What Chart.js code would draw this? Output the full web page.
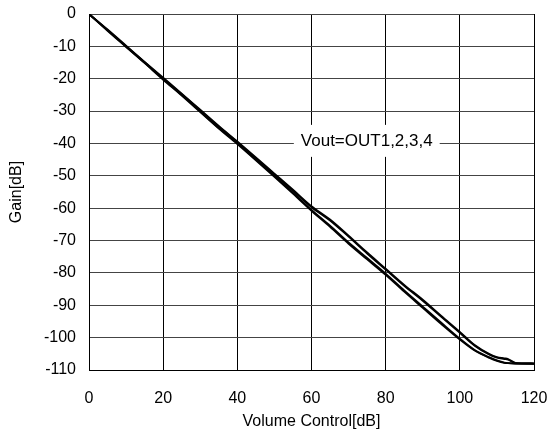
<!DOCTYPE html>
<html>
<head>
<meta charset="utf-8">
<script src="https://cdn.jsdelivr.net/npm/chart.js@4/dist/chart.umd.min.js"></script>
<style>
  html, body { margin: 0; padding: 0; background: #fff; }
  #wrap { width: 553px; height: 446px; }
</style>
</head>
<body>
<div id="wrap"><canvas id="gainChart" width="553" height="446"></canvas></div>
<script>
// volume control setting (x) and gain for each output
const volume = [0, 5, 10, 15, 20, 25, 30, 35, 40, 45, 50, 55, 60, 65, 70, 75, 80, 85, 90, 95, 100, 104, 108, 110, 112, 113, 115, 120];
const out1 = [0, -5.2, -10.2, -15.2, -20.3, -25.2, -30.3, -35.4, -40.2, -45.2, -50.3, -55.5, -60.8, -65.8, -71.0, -75.8, -80.6, -85.8, -90.8, -95.8, -100.6, -104.0, -106.3, -107.2, -107.8, -107.9, -108.0, -108.0];
const out2 = [0, -5.0, -10.0, -15.0, -20.1, -25.0, -30.1, -35.2, -39.9, -45.0, -50.0, -55.2, -60.5, -65.4, -70.6, -75.4, -80.2, -85.4, -90.4, -95.4, -100.3, -103.8, -106.1, -107.0, -107.7, -107.9, -108.0, -108.0];
const out3 = [0, -5.0, -10.0, -15.0, -19.9, -24.8, -29.8, -34.8, -39.6, -44.6, -49.6, -54.6, -59.7, -63.8, -68.8, -74.0, -79.0, -84.0, -88.6, -93.6, -98.5, -102.5, -105.3, -106.2, -106.6, -106.8, -107.9, -108.0];
const out4 = [0, -4.8, -9.8, -14.8, -19.7, -24.6, -29.6, -34.6, -39.4, -44.3, -49.3, -54.3, -59.4, -63.5, -68.5, -73.7, -78.7, -83.7, -88.3, -93.3, -98.2, -102.3, -105.1, -106.0, -106.4, -106.6, -107.8, -108.0];
const xTicks = [0, 20, 40, 60, 80, 100, 120];
const yTicks = [0, -10, -20, -30, -40, -50, -60, -70, -80, -90, -100, -110];
const noteText = "Vout=OUT1,2,3,4";

const FONT = "'Liberation Sans', Arial, sans-serif";

function toPoints(ys) {
  return volume.map((v, i) => ({ x: v, y: ys[i] }));
}

// draws the boxed note on top of the grid, placed by data coordinates
const notePlugin = {
  id: 'note',
  afterDatasetsDraw(chart, args, opts) {
    const { ctx, scales } = chart;
    const cx = scales.x.getPixelForValue(opts.x);
    const cy = scales.y.getPixelForValue(opts.y);
    ctx.save();
    ctx.font = "17px " + FONT;
    const w = ctx.measureText(opts.text).width;
    ctx.fillStyle = "#fff";
    ctx.fillRect(cx - w / 2 - 7, cy - 16, w + 14, 32);
    ctx.fillStyle = "#000";
    ctx.textAlign = "center";
    ctx.textBaseline = "middle";
    ctx.fillText(opts.text, cx, cy);
    ctx.restore();
  }
};

const lineStyle = {
  borderColor: '#000',
  borderWidth: 1.8,
  pointRadius: 0,
  tension: 0.3,
  cubicInterpolationMode: 'monotone',
  fill: false
};

new Chart(document.getElementById("gainChart").getContext("2d"), {
  type: 'line',
  data: {
    datasets: [
      { label: 'OUT1', data: toPoints(out1), ...lineStyle },
      { label: 'OUT2', data: toPoints(out2), ...lineStyle },
      { label: 'OUT3', data: toPoints(out3), ...lineStyle },
      { label: 'OUT4', data: toPoints(out4), ...lineStyle }
    ]
  },
  plugins: [notePlugin],
  options: {
    responsive: false,
    animation: false,
    layout: { padding: { top: 14, right: 19, left: 0, bottom: 0 } },
    plugins: {
      legend: { display: false },
      tooltip: { enabled: false },
      note: { x: 74.9, y: -39.2, text: noteText }
    },
    scales: {
      x: {
        type: 'linear',
        min: 0,
        max: 120,
        afterBuildTicks: axis => { axis.ticks = xTicks.map(v => ({ value: v })); },
        afterFit: axis => {
          axis.height = 76;
          axis.paddingLeft = 0;
          axis.paddingRight = 0;
        },
        grid: { color: '#000', lineWidth: 1, drawTicks: false, tickLength: 0 },
        border: { color: '#000', width: 1 },
        ticks: { color: '#000', font: { family: FONT, size: 16 }, padding: 19, maxRotation: 0 },
        title: {
          display: true,
          text: 'Volume Control[dB]',
          color: '#000',
          font: { family: FONT, size: 16 },
          padding: { top: 0, bottom: 15 }
        }
      },
      y: {
        type: 'linear',
        min: -110,
        max: 0,
        afterBuildTicks: axis => { axis.ticks = yTicks.map(v => ({ value: v })); },
        afterFit: axis => {
          axis.width = 89;
          axis.paddingTop = 0;
          axis.paddingBottom = 0;
        },
        grid: { color: '#444', lineWidth: 1, drawTicks: false, tickLength: 0 },
        border: { color: '#000', width: 1 },
        ticks: { color: '#000', font: { family: FONT, size: 16 }, padding: 13 },
        title: {
          display: true,
          text: 'Gain[dB]',
          color: '#000',
          font: { family: FONT, size: 16 },
          padding: { top: 7, bottom: 0 }
        }
      }
    }
  }
});
</script>
</body>
</html>
